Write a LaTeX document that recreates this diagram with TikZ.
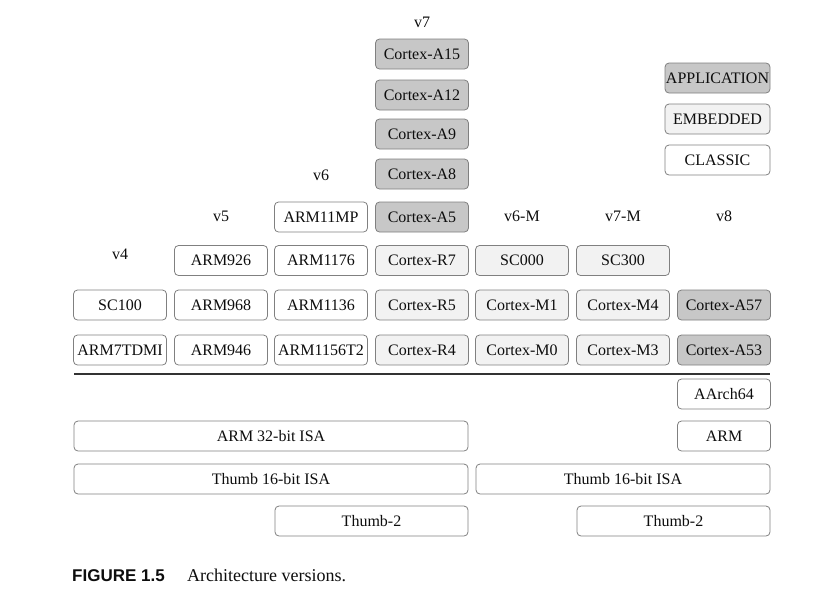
\documentclass[tikz,border=0pt]{standalone}
\usepackage{fontspec}
\setmainfont{Liberation Serif}
\newfontfamily\capsans{Liberation Sans}
\begin{document}
\begin{tikzpicture}[x=1pt,y=-1pt,
  every node/.style={font=\fontsize{16}{18}\selectfont, text=black!95},
  boxbase/.style={draw=black!50, rounded corners=4pt, minimum width=93pt, minimum height=30pt, inner sep=0pt, line width=0.8pt},
  appbox/.style={boxbase, fill=black!22},
  embbox/.style={boxbase, fill=black!5},
  clsbox/.style={boxbase, fill=white},
  widebox/.style={clsbox, minimum width=#1},
  legbox/.style={minimum width=105pt},
  lbl/.style={inner sep=0pt}
]
\useasboundingbox (0,0) rectangle (840,598);
% column centres: 120,221,321,422,522,623,724
% version labels
\node[lbl] (v7) at (422,22) {v7};
\node[lbl] (v6) at (321,175) {v6};
\node[lbl] (v5) at (221,216) {v5};
\node[lbl] (v4) at (120,254) {v4};
\node[lbl] (v6m) at (522,216) {v6-M};
\node[lbl] (v7m) at (623,216) {v7-M};
\node[lbl] (v8) at (724,216) {v8};
% v7 application column
\node[appbox] (a15) at (422,54) {Cortex-A15};
\node[appbox] (a12) at (422,95) {Cortex-A12};
\node[appbox] (a9) at (422,134) {Cortex-A9};
\node[appbox] (a8) at (422,174) {Cortex-A8};
\node[appbox] (a5) at (422,217) {Cortex-A5};
\node[embbox] (r7) at (422,260.5) {Cortex-R7};
\node[embbox] (r5) at (422,305) {Cortex-R5};
\node[embbox] (r4) at (422,350) {Cortex-R4};
% v4
\node[clsbox] (sc100) at (120,305) {SC100};
\node[clsbox] (arm7) at (120,350) {ARM7TDMI};
% v5
\node[clsbox] (arm926) at (221,260.5) {ARM926};
\node[clsbox] (arm968) at (221,305) {ARM968};
\node[clsbox] (arm946) at (221,350) {ARM946};
% v6
\node[clsbox] (arm11mp) at (321,217) {ARM11MP};
\node[clsbox] (arm1176) at (321,260.5) {ARM1176};
\node[clsbox] (arm1136) at (321,305) {ARM1136};
\node[clsbox] (arm1156) at (321,350) {ARM1156T2};
% v6-M
\node[embbox] (sc000) at (522,260.5) {SC000};
\node[embbox] (m1) at (522,305) {Cortex-M1};
\node[embbox] (m0) at (522,350) {Cortex-M0};
% v7-M
\node[embbox] (sc300) at (623,260.5) {SC300};
\node[embbox] (m4) at (623,305) {Cortex-M4};
\node[embbox] (m3) at (623,350) {Cortex-M3};
% v8
\node[appbox] (a57) at (724,305) {Cortex-A57};
\node[appbox] (a53) at (724,350) {Cortex-A53};
% legend
\node[appbox, legbox] (leg1) at (717.5,78) {APPLICATION};
\node[embbox, legbox] (leg2) at (717.5,119) {EMBEDDED};
\node[clsbox, legbox] (leg3) at (717.5,160) {CLASSIC};
% separator
\coordinate (sepL) at (74,373.5);
\coordinate (sepR) at (770,373.5);
\draw[line width=2pt, black!80] (sepL) -- (sepR);
% ISA rows
\node[clsbox] (aarch64) at (724,394) {AArch64};
\node[clsbox] (armisa) at (724,436) {ARM};
\node[widebox=394pt] (arm32) at (271,436) {ARM 32-bit ISA};
\node[widebox=394pt] (thumbL) at (271,479) {Thumb 16-bit ISA};
\node[widebox=294pt] (thumbR) at (623,479) {Thumb 16-bit ISA};
\node[widebox=193pt] (t2L) at (371.5,521) {Thumb-2};
\node[widebox=193pt] (t2R) at (673.5,521) {Thumb-2};
% caption
\node[lbl, anchor=base west, font=\capsans\bfseries\fontsize{17}{19}\selectfont] (figno) at (72,581) {FIGURE 1.5};
\node[lbl, anchor=base west, font=\fontsize{18}{20}\selectfont] (figcap) at (187,581) {Architecture versions.};
\end{tikzpicture}
\end{document}
